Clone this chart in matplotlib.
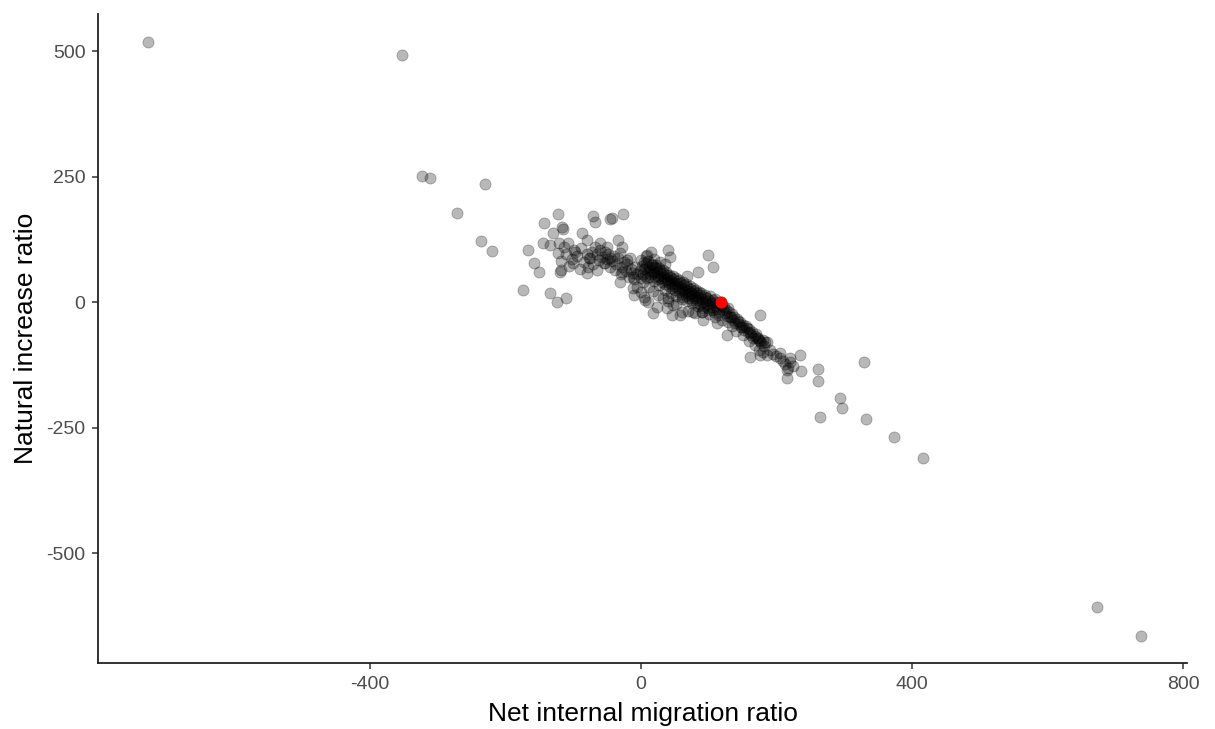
#!/usr/bin/env python

import matplotlib

matplotlib.use("Agg")
import matplotlib.pyplot as plt

plt.rcParams["font.family"] = ["Liberation Sans", "DejaVu Sans"]
plt.rcParams["axes.unicode_minus"] = False

# outlying municipalities
outer_x = [-728, -353, -323, -311, -230, -272, -236, -220, -174, 673, 738,
           416, 373, 329, 332, 294, 297, 264, 261, 261, 235, 215, 215, 236]
outer_y = [518, 492, 251, 247, 235, 177, 122, 102, 24, -608, -665,
           -311, -269, -120, -233, -191, -211, -229, -133, -157, -106, -135,
           -151, -137]

# loose cloud left of zero
cloud_x = [-123, -143, -117, -115, -130, -71, -68, -46, -27, -145, -134,
           -121, -108, -87, -80, -122, -97, -100, -77, -167, -158, -151,
           -120, -118, -80, -65, -134, -124, -111, -61, -50, -34, -46, -53,
           -31, -38, -31, -21, -43, -28, -16, -12, -28, -12]
cloud_y = [175, 157, 149, 145, 137, 171, 159, 165, 175, 118, 114,
           117, 117, 137, 124, 97, 100, 78, 88, 104, 78, 60,
           60, 64, 58, 64, 18, 0, 8, 118, 110, 124, 88, 78,
           98, 64, 40, 84, 167, 110, 88, 28, 60, 50]

# dense band along the diagonal
band_x = [2, 5, 8, 10, 12, 14, 15, 17, 18, 20, 21, 22, 24, 25, 26, 28, 29,
          30, 31, 33, 34, 35, 36, 38, 39, 40, 41, 43, 44, 45, 46, 48, 49, 50,
          51, 53, 54, 55, 56, 58, 59, 60, 61, 63, 64, 65, 66, 68, 69, 70, 71,
          73, 74, 75, 76, 78, 79, 80, 82, 83, 84, 85, 87, 88, 90, 91, 93, 95,
          96, 97, 99, 101, 103, 105, 107, 109, 111, 113, 115, 118, 121, 124,
          127, 130, 133, 136, 139, 142, 145, 148, 152, 155, 158, 162, 166,
          170, 174, 178, 182, 186]
band_y = [72, 66, 78, 60, 70, 64, 55, 74, 62, 58, 50, 68, 60, 52, 45, 63, 55,
          48, 40, 58, 50, 44, 36, 54, 46, 40, 32, 50, 42, 36, 28, 46, 38, 32,
          24, 42, 35, 28, 20, 38, 30, 24, 16, 34, 26, 20, 12, 30, 22, 16, 8,
          26, 18, 12, 4, 22, 14, 8, 0, 18, 10, 4, -4, 14, 6, 0, -8, 10,
          2, -4, -12, 4, -2, -10, -16, 0, -8, -14, -20, -6, -14, -22,
          -28, -20, -30, -36, -42, -34, -44, -50, -56, -48, -60, -66, -72,
          -64, -76, -82, -88, -80]

# second pass over the band, slightly wider
band2_x = [0, 4, 7, 11, 16, 19, 23, 27, 32, 37, 42, 47, 52, 57, 62, 67, 72,
           77, 81, 86, 89, 94, 98, 102, 106, 110, 114, 117, 120, 123, 126,
           129, 134, 138, 143, 147, 151, 156, 160, 164, 168, 172, 176, 180,
           3, 9, 13, 19, 27, 36, 44, 52, 60, 68, 76, 84, 92, 100, 108, 116]
band2_y = [84, 80, 70, 82, 76, 70, 74, 68, 64, 60, 54, 52, 48, 44, 40, 36, 32,
           28, 24, 20, 18, 14, 8, 12, 4, 6, -2, 0, -6, -10, -16,
           -12, -24, -30, -38, -40, -46, -52, -54, -60, -68, -72, -78, -76,
           56, 48, 50, 42, 34, 24, 18, 12, 6, 2, -2, -8, -12, -16, -20, -26]

# dense patch around zero
core_x = [-5, -2, 0, 3, 6, -8, -10, -12, -15, -18, -20, -22, -25, -28, -30,
          -33, -36, -40, -42, -45, -48, -50, -53, -55, -58, -60, -62, -65,
          -68, -70, -72, -75, -78, -80, -84, -88, -90, -94, -98, -102, -106,
          -110, -114, -118]
core_y = [55, 62, 48, 40, 52, 70, 45, 58, 66, 50, 75, 62, 80, 70, 55,
          88, 76, 92, 82, 70, 96, 86, 100, 78, 90, 104, 84, 96,
          110, 76, 100, 88, 70, 95, 80, 108, 66, 92, 104, 86, 72,
          96, 110, 82]

# remaining scattered points near the band
rest_x = [8, 15, 20, 28, 35, 12, 18, 25, 32, 40, 48, 0, -5, -10, 5, 10, 60,
          70, 80, 90, 100, 52, 38, 110, 120, 128, 135, 140, 150, 160, 168,
          175, 180, 190, 195, 200, 205, 210, 212, 220, 225, 9, 40, 43, 99,
          106, 84, 68, 6, 24, 18, 46, 58, 77, 90, 40, 61, 176, 131, 149, 161,
          173, 183, 161, 176, 186, 205, 220, 217, 127, 112, 92]
rest_y = [92, 100, 85, 80, 75, 30, 22, 14, 8, 2, -6, 20, 30, 15, 10, 0, -20,
          -18, -22, -20, -24, -4, -12, -30, -36, -40, -48, -58, -66, -78, -86,
          -96, -100, -96, -104, -108, -112, -118, -124, -120, -128, 94, 104,
          90, 94, 70, 60, 52, 4, -10, -22, -26, -26, -20, -20, 8, 10, -26,
          -30, -50, -62, -72, -80, -110, -106, -106, -102, -112, -131, -66,
          -42, -36]

highlight_x = [118]
highlight_y = [0]


def main():
    xs = outer_x + cloud_x + band_x + band2_x + core_x + rest_x
    ys = outer_y + cloud_y + band_y + band2_y + core_y + rest_y

    fig = plt.figure(figsize=(12.15, 7.29), dpi=100)
    ax = fig.add_axes([0.0807, 0.0905, 0.8963, 0.8905])

    ax.scatter(xs, ys, s=64, color="black", alpha=0.28,
               edgecolors="black", linewidths=0.6, zorder=2)
    ax.scatter(highlight_x, highlight_y, s=64, color="red",
               edgecolors="red", linewidths=0.6, zorder=3)

    ax.set_xlim(-801, 806)
    ax.set_ylim(-719, 574)
    ax.set_xticks([-400, 0, 400, 800])
    ax.set_yticks([-500, -250, 0, 250, 500])

    for side in ["top", "right"]:
        ax.spines[side].set_visible(False)
    for side in ["left", "bottom"]:
        ax.spines[side].set_color("#222222")
        ax.spines[side].set_linewidth(1.3)

    ax.tick_params(length=4, width=1.1, color="#333333",
                   labelcolor="#4d4d4d", labelsize=14, pad=5)
    ax.set_xlabel("Net internal migration ratio", fontsize=19, labelpad=7)
    ax.set_ylabel("Natural increase ratio", fontsize=19, labelpad=6)

    fig.savefig("out.png", dpi=100, facecolor="white")


if __name__ == "__main__":
    main()
